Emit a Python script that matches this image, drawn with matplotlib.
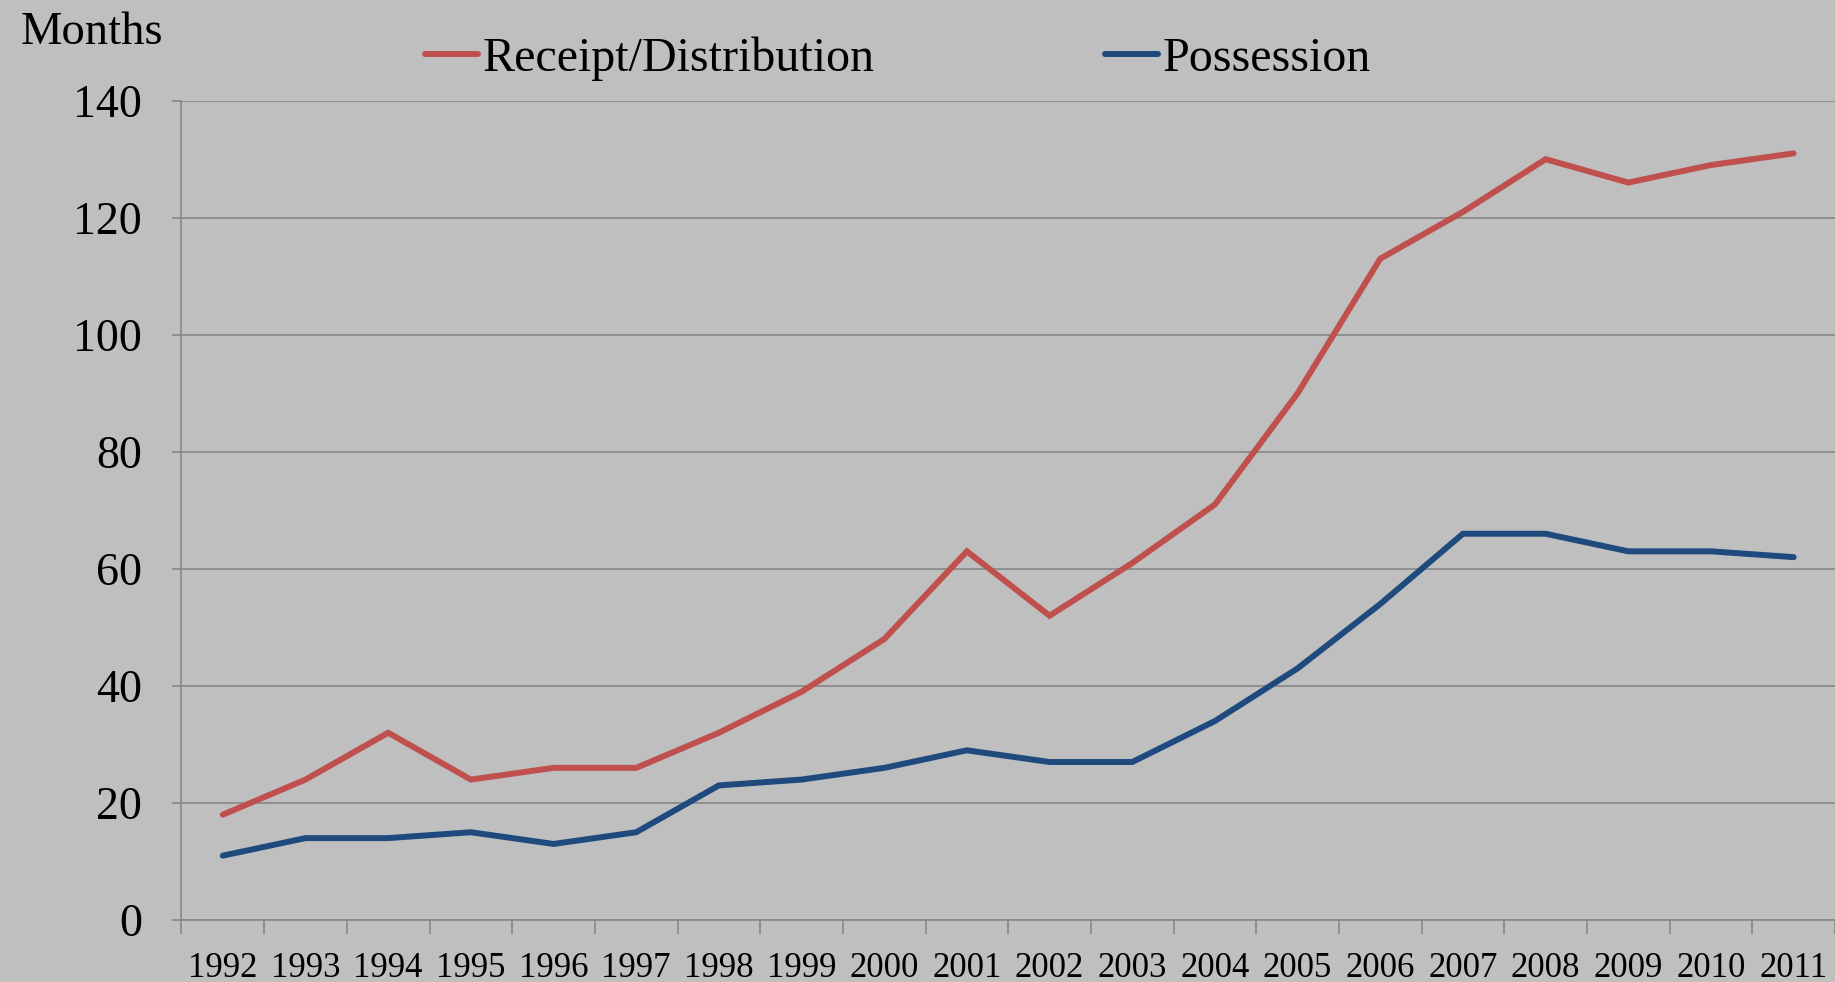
import matplotlib.pyplot as plt
import numpy as np

# Chart data
years = ['1992', '1993', '1994', '1995', '1996', '1997', '1998', '1999', '2000', '2001',
         '2002', '2003', '2004', '2005', '2006', '2007', '2008', '2009', '2010', '2011']
receipt_distribution = [18, 24, 32, 24, 26, 26, 32, 39, 48, 63,
                        52, 61, 71, 90, 113, 121, 130, 126, 129, 131]
possession = [11, 14, 14, 15, 13, 15, 23, 24, 26, 29,
              27, 27, 34, 43, 54, 66, 66, 63, 63, 62]
y_ticks = [0, 20, 40, 60, 80, 100, 120, 140]

bg = '#BFBFBF'
grid_col = '#878787'
red = '#C0504D'
blue = '#1F4A7E'

plt.rcParams['font.family'] = ['Liberation Serif', 'DejaVu Serif']

fig = plt.figure(figsize=(18.35, 9.82), dpi=100, facecolor=bg)
ax = fig.add_axes([0.0989, 0.0631, 0.9011, 0.8344], facecolor=bg)

x = np.arange(len(years))
ax.plot(x, receipt_distribution, color=red, lw=4.3, solid_capstyle='round',
        solid_joinstyle='miter', label='Receipt/Distribution')
ax.plot(x, possession, color=blue, lw=4.3, solid_capstyle='round',
        solid_joinstyle='miter', label='Possession')

ax.set_xlim(-0.5, len(years) - 0.5)
ax.set_ylim(0, 140)

# category axis: labels at centres, tick marks between categories
ax.set_xticks(x)
ax.set_xticklabels(years, fontsize=25)
ax.set_xticks(np.arange(-0.5, len(years), 1), minor=True)
ax.tick_params(axis='x', which='major', length=0, pad=23)
ax.tick_params(axis='x', which='minor', length=10, width=1.2, color=grid_col, direction='out')

ax.set_yticks(y_ticks)
ax.set_yticklabels([str(v) for v in y_ticks], fontsize=33)
ax.tick_params(axis='y', length=6.5, width=1.2, color=grid_col, pad=22)

ax.grid(axis='y', color=grid_col, lw=1.2)
ax.set_axisbelow(True)
for side in ['top', 'right']:
    ax.spines[side].set_visible(False)
for side in ['left', 'bottom']:
    ax.spines[side].set_color(grid_col)
    ax.spines[side].set_linewidth(1.2)

fig.text(0.0501, 0.967, 'Months', fontsize=33.6, ha='center', va='center')

fig.legend(loc='center left', bbox_to_anchor=(0.2316, 0.940), ncol=2, frameon=False,
           fontsize=34.6, handlelength=1.1, handletextpad=0.1, columnspacing=4.8,
           borderpad=0, borderaxespad=0)

fig.savefig('out.png', dpi=100, facecolor=bg)
